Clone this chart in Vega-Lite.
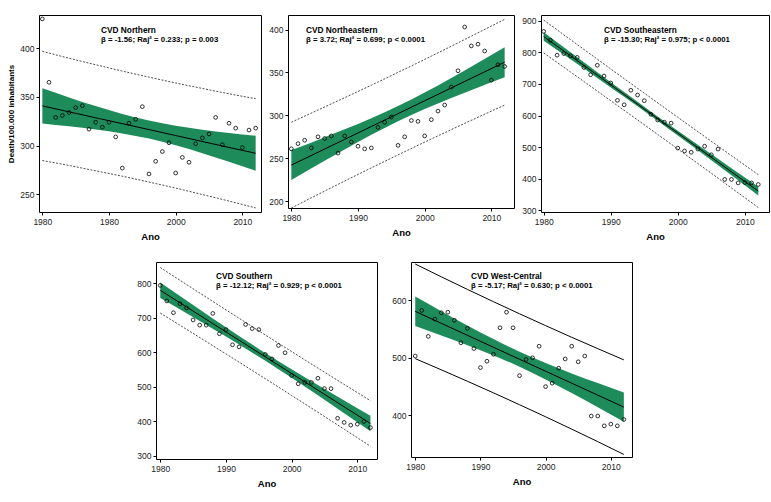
{
"$schema": "https://vega.github.io/schema/vega-lite/v6.json",
"background": "white",
"padding": {"left": 7, "top": 14, "right": 1, "bottom": 5},
"config": {
 "font": "Liberation Sans, Arial, sans-serif",
 "view": {"stroke": "black", "strokeWidth": 1},
 "axis": {"domain": false, "grid": false, "labelOverlap": false, "tickCount": 20, "tickColor": "black", "tickSize": 3, "tickWidth": 1, "labelFont": "Liberation Sans, Arial, sans-serif", "labelFontSize": 8.5, "labelColor": "#222", "labelPadding": 2, "titleFont": "Liberation Sans, Arial, sans-serif", "titleFontSize": 9.5, "titleFontWeight": "bold", "titleColor": "black"},
 "title": {"anchor": "start", "frame": "group", "font": "Liberation Sans, Arial, sans-serif", "fontSize": 8.3, "fontWeight": "bold", "color": "black", "subtitleFont": "Liberation Sans, Arial, sans-serif", "subtitleFontSize": 7.8, "subtitleFontWeight": "bold", "subtitleColor": "black", "subtitlePadding": 1.5}
},
"datasets": {
 "pts": [
  {"r":"N","year":1980,"v":430},{"r":"N","year":1981,"v":365},{"r":"N","year":1982,"v":329},{"r":"N","year":1983,"v":331},{"r":"N","year":1984,"v":334},{"r":"N","year":1985,"v":339},{"r":"N","year":1986,"v":341},{"r":"N","year":1987,"v":317},{"r":"N","year":1988,"v":324},{"r":"N","year":1989,"v":319},{"r":"N","year":1990,"v":324},{"r":"N","year":1991,"v":309},{"r":"N","year":1992,"v":277},{"r":"N","year":1993,"v":323},{"r":"N","year":1994,"v":327},{"r":"N","year":1995,"v":340},{"r":"N","year":1996,"v":271},{"r":"N","year":1997,"v":284},{"r":"N","year":1998,"v":294},{"r":"N","year":1999,"v":303},{"r":"N","year":2000,"v":272},{"r":"N","year":2001,"v":288},{"r":"N","year":2002,"v":283},{"r":"N","year":2003,"v":302},{"r":"N","year":2004,"v":308},{"r":"N","year":2005,"v":312},{"r":"N","year":2006,"v":329},{"r":"N","year":2007,"v":301},{"r":"N","year":2008,"v":323},{"r":"N","year":2009,"v":318},{"r":"N","year":2010,"v":298},{"r":"N","year":2011,"v":316},{"r":"N","year":2012,"v":318},
  {"r":"NE","year":1980,"v":261},{"r":"NE","year":1981,"v":267},{"r":"NE","year":1982,"v":271},{"r":"NE","year":1983,"v":262},{"r":"NE","year":1984,"v":275},{"r":"NE","year":1985,"v":273},{"r":"NE","year":1986,"v":276},{"r":"NE","year":1987,"v":256},{"r":"NE","year":1988,"v":276},{"r":"NE","year":1989,"v":269},{"r":"NE","year":1990,"v":264},{"r":"NE","year":1991,"v":261},{"r":"NE","year":1992,"v":262},{"r":"NE","year":1993,"v":286},{"r":"NE","year":1994,"v":292},{"r":"NE","year":1995,"v":298},{"r":"NE","year":1996,"v":265},{"r":"NE","year":1997,"v":275},{"r":"NE","year":1998,"v":294},{"r":"NE","year":1999,"v":293},{"r":"NE","year":2000,"v":276},{"r":"NE","year":2001,"v":295},{"r":"NE","year":2002,"v":305},{"r":"NE","year":2003,"v":312},{"r":"NE","year":2004,"v":333},{"r":"NE","year":2005,"v":352},{"r":"NE","year":2006,"v":403},{"r":"NE","year":2007,"v":381},{"r":"NE","year":2008,"v":383},{"r":"NE","year":2009,"v":375},{"r":"NE","year":2010,"v":341},{"r":"NE","year":2011,"v":359},{"r":"NE","year":2012,"v":357},
  {"r":"SE","year":1980,"v":866},{"r":"SE","year":1981,"v":838},{"r":"SE","year":1982,"v":791},{"r":"SE","year":1983,"v":796},{"r":"SE","year":1984,"v":789},{"r":"SE","year":1985,"v":784},{"r":"SE","year":1986,"v":752},{"r":"SE","year":1987,"v":729},{"r":"SE","year":1988,"v":759},{"r":"SE","year":1989,"v":725},{"r":"SE","year":1990,"v":703},{"r":"SE","year":1991,"v":648},{"r":"SE","year":1992,"v":634},{"r":"SE","year":1993,"v":680},{"r":"SE","year":1994,"v":665},{"r":"SE","year":1995,"v":647},{"r":"SE","year":1996,"v":604},{"r":"SE","year":1997,"v":586},{"r":"SE","year":1998,"v":579},{"r":"SE","year":1999,"v":576},{"r":"SE","year":2000,"v":497},{"r":"SE","year":2001,"v":488},{"r":"SE","year":2002,"v":484},{"r":"SE","year":2003,"v":494},{"r":"SE","year":2004,"v":503},{"r":"SE","year":2005,"v":476},{"r":"SE","year":2006,"v":494},{"r":"SE","year":2007,"v":398},{"r":"SE","year":2008,"v":398},{"r":"SE","year":2009,"v":387},{"r":"SE","year":2010,"v":388},{"r":"SE","year":2011,"v":387},{"r":"SE","year":2012,"v":382},
  {"r":"S","year":1980,"v":793},{"r":"S","year":1981,"v":748},{"r":"S","year":1982,"v":714},{"r":"S","year":1983,"v":740},{"r":"S","year":1984,"v":728},{"r":"S","year":1985,"v":693},{"r":"S","year":1986,"v":678},{"r":"S","year":1987,"v":678},{"r":"S","year":1988,"v":712},{"r":"S","year":1989,"v":653},{"r":"S","year":1990,"v":665},{"r":"S","year":1991,"v":621},{"r":"S","year":1992,"v":615},{"r":"S","year":1993,"v":680},{"r":"S","year":1994,"v":668},{"r":"S","year":1995,"v":665},{"r":"S","year":1996,"v":593},{"r":"S","year":1997,"v":580},{"r":"S","year":1998,"v":619},{"r":"S","year":1999,"v":598},{"r":"S","year":2000,"v":532},{"r":"S","year":2001,"v":508},{"r":"S","year":2002,"v":512},{"r":"S","year":2003,"v":512},{"r":"S","year":2004,"v":524},{"r":"S","year":2005,"v":494},{"r":"S","year":2006,"v":494},{"r":"S","year":2007,"v":408},{"r":"S","year":2008,"v":396},{"r":"S","year":2009,"v":388},{"r":"S","year":2010,"v":391},{"r":"S","year":2011,"v":399},{"r":"S","year":2012,"v":381},
  {"r":"WC","year":1980,"v":503},{"r":"WC","year":1981,"v":582},{"r":"WC","year":1982,"v":537},{"r":"WC","year":1983,"v":567},{"r":"WC","year":1984,"v":578},{"r":"WC","year":1985,"v":579},{"r":"WC","year":1986,"v":565},{"r":"WC","year":1987,"v":526},{"r":"WC","year":1988,"v":551},{"r":"WC","year":1989,"v":516},{"r":"WC","year":1990,"v":483},{"r":"WC","year":1991,"v":494},{"r":"WC","year":1992,"v":506},{"r":"WC","year":1993,"v":552},{"r":"WC","year":1994,"v":579},{"r":"WC","year":1995,"v":552},{"r":"WC","year":1996,"v":469},{"r":"WC","year":1997,"v":497},{"r":"WC","year":1998,"v":500},{"r":"WC","year":1999,"v":520},{"r":"WC","year":2000,"v":450},{"r":"WC","year":2001,"v":456},{"r":"WC","year":2002,"v":482},{"r":"WC","year":2003,"v":498},{"r":"WC","year":2004,"v":520},{"r":"WC","year":2005,"v":493},{"r":"WC","year":2006,"v":503},{"r":"WC","year":2007,"v":399},{"r":"WC","year":2008,"v":399},{"r":"WC","year":2009,"v":382},{"r":"WC","year":2010,"v":385},{"r":"WC","year":2011,"v":382},{"r":"WC","year":2012,"v":393}
 ],
 "fit": [
  {"r":"N","year":1980,"fit":340.8,"lo":322.8,"hi":358.8,"pl":284.8,"ph":396.8},
  {"r":"N","year":1984,"fit":334.7,"lo":319.9,"hi":349.5,"pl":279.7,"ph":389.7},
  {"r":"N","year":1988,"fit":328.6,"lo":316.6,"hi":340.6,"pl":274.2,"ph":383.0},
  {"r":"N","year":1992,"fit":322.6,"lo":312.6,"hi":332.6,"pl":268.7,"ph":376.5},
  {"r":"N","year":1996,"fit":316.5,"lo":307.3,"hi":325.7,"pl":262.7,"ph":370.3},
  {"r":"N","year":2000,"fit":310.4,"lo":300.4,"hi":320.4,"pl":256.5,"ph":364.3},
  {"r":"N","year":2004,"fit":304.3,"lo":292.3,"hi":316.3,"pl":249.9,"ph":358.7},
  {"r":"N","year":2008,"fit":298.2,"lo":283.4,"hi":313.0,"pl":243.2,"ph":353.2},
  {"r":"N","year":2012,"fit":292.2,"lo":274.2,"hi":310.2,"pl":236.2,"ph":348.2},
  {"r":"NE","year":1980,"fit":242.0,"lo":224.5,"hi":259.5,"pl":192.0,"ph":292.0},
  {"r":"NE","year":1984,"fit":257.0,"lo":242.6,"hi":271.4,"pl":207.8,"ph":306.2},
  {"r":"NE","year":1988,"fit":272.0,"lo":260.3,"hi":283.7,"pl":223.4,"ph":320.6},
  {"r":"NE","year":1992,"fit":287.0,"lo":277.3,"hi":296.7,"pl":238.8,"ph":335.2},
  {"r":"NE","year":1996,"fit":302.0,"lo":293.1,"hi":310.9,"pl":253.9,"ph":350.1},
  {"r":"NE","year":2000,"fit":317.0,"lo":307.3,"hi":326.7,"pl":268.8,"ph":365.2},
  {"r":"NE","year":2004,"fit":332.0,"lo":320.3,"hi":343.7,"pl":283.4,"ph":380.6},
  {"r":"NE","year":2008,"fit":347.0,"lo":332.6,"hi":361.4,"pl":297.8,"ph":396.2},
  {"r":"NE","year":2012,"fit":362.0,"lo":344.5,"hi":379.5,"pl":312.0,"ph":412.0},
  {"r":"SE","year":1980,"fit":850.0,"lo":836.5,"hi":863.5,"pl":798.0,"ph":902.0},
  {"r":"SE","year":1984,"fit":788.9,"lo":777.8,"hi":800.0,"pl":737.8,"ph":840.0},
  {"r":"SE","year":1988,"fit":727.8,"lo":718.8,"hi":736.8,"pl":677.3,"ph":778.3},
  {"r":"SE","year":1992,"fit":666.6,"lo":659.1,"hi":674.1,"pl":616.5,"ph":716.7},
  {"r":"SE","year":1996,"fit":605.5,"lo":598.6,"hi":612.4,"pl":555.5,"ph":655.5},
  {"r":"SE","year":2000,"fit":544.4,"lo":536.9,"hi":551.9,"pl":494.3,"ph":594.5},
  {"r":"SE","year":2004,"fit":483.3,"lo":474.3,"hi":492.3,"pl":432.8,"ph":533.8},
  {"r":"SE","year":2008,"fit":422.1,"lo":411.0,"hi":433.2,"pl":371.0,"ph":473.2},
  {"r":"SE","year":2012,"fit":361.0,"lo":347.5,"hi":374.5,"pl":309.0,"ph":413.0},
  {"r":"S","year":1980,"fit":779.0,"lo":756.5,"hi":801.5,"pl":713.0,"ph":845.0},
  {"r":"S","year":1984,"fit":730.8,"lo":712.3,"hi":749.3,"pl":665.9,"ph":795.7},
  {"r":"S","year":1988,"fit":682.5,"lo":667.5,"hi":697.5,"pl":618.4,"ph":746.6},
  {"r":"S","year":1992,"fit":634.3,"lo":621.8,"hi":646.8,"pl":570.7,"ph":697.9},
  {"r":"S","year":1996,"fit":586.0,"lo":574.5,"hi":597.5,"pl":522.6,"ph":649.4},
  {"r":"S","year":2000,"fit":537.8,"lo":525.3,"hi":550.3,"pl":474.2,"ph":601.4},
  {"r":"S","year":2004,"fit":489.5,"lo":474.5,"hi":504.5,"pl":425.4,"ph":553.6},
  {"r":"S","year":2008,"fit":441.3,"lo":422.8,"hi":459.8,"pl":376.4,"ph":506.2},
  {"r":"S","year":2012,"fit":393.0,"lo":370.5,"hi":415.5,"pl":327.0,"ph":459.0},
  {"r":"WC","year":1980,"fit":580.5,"lo":555.0,"hi":606.0,"pl":498.5,"ph":662.5},
  {"r":"WC","year":1984,"fit":559.7,"lo":538.7,"hi":580.7,"pl":479.1,"ph":640.3},
  {"r":"WC","year":1988,"fit":538.9,"lo":521.9,"hi":555.9,"pl":459.3,"ph":618.5},
  {"r":"WC","year":1992,"fit":518.2,"lo":504.0,"hi":532.4,"pl":439.2,"ph":597.2},
  {"r":"WC","year":1996,"fit":497.4,"lo":484.4,"hi":510.4,"pl":418.6,"ph":576.2},
  {"r":"WC","year":2000,"fit":476.7,"lo":462.5,"hi":490.9,"pl":397.7,"ph":555.7},
  {"r":"WC","year":2004,"fit":455.9,"lo":438.9,"hi":472.9,"pl":376.3,"ph":535.5},
  {"r":"WC","year":2008,"fit":435.2,"lo":414.2,"hi":456.2,"pl":354.6,"ph":515.8},
  {"r":"WC","year":2012,"fit":414.4,"lo":388.9,"hi":439.9,"pl":332.4,"ph":496.4}
 ]
},
"spacing": 19,
"vconcat": [
 {"hconcat": [
  {"width": 222, "height": 197,
   "title": {"text": "CVD Northern", "subtitle": "β = -1.56; Raj² = 0.233; p = 0.003", "dx": 62, "offset": -29},
   "data": {"name": "fit"}, "transform": [{"filter": "datum.r === 'N'"}],
   "encoding": {"x": {"field": "year", "type": "quantitative", "scale": {"domain": [1979.5, 2012.8], "nice": false, "zero": false}, "axis": {"values": [1980, 1990, 2000, 2010], "format": "d", "labelExpr": "datum.value == 1990 ? '1980' : datum.label", "title": "Ano", "titlePadding": 6}}},
   "layer": [
    {"mark": {"type": "area", "color": "#1e8c5a", "opacity": 1, "interpolate": "monotone"}, "encoding": {"y": {"field": "lo", "type": "quantitative", "scale": {"domain": [232, 434], "nice": false, "zero": false}, "axis": {"values": [250, 300, 350, 400], "title": "Death/100.000 inhabitants", "titleFontSize": 8, "titlePadding": 4}}, "y2": {"field": "hi"}}},
    {"mark": {"type": "line", "color": "black", "strokeWidth": 1}, "encoding": {"y": {"field": "fit", "type": "quantitative"}}},
    {"mark": {"type": "line", "color": "#222", "strokeWidth": 0.8, "strokeDash": [2, 1.5], "interpolate": "monotone"}, "encoding": {"y": {"field": "pl", "type": "quantitative"}}},
    {"mark": {"type": "line", "color": "#222", "strokeWidth": 0.8, "strokeDash": [2, 1.5], "interpolate": "monotone"}, "encoding": {"y": {"field": "ph", "type": "quantitative"}}},
    {"data": {"name": "pts"}, "transform": [{"filter": "datum.r === 'N'"}], "mark": {"type": "point", "shape": "circle", "filled": false, "stroke": "black", "strokeWidth": 0.8, "size": 14, "opacity": 1}, "encoding": {"y": {"field": "v", "type": "quantitative"}}}
   ]},
  {"width": 226, "height": 193,
   "title": {"text": "CVD Northeastern", "subtitle": "β = 3.72; Raj² = 0.699; p < 0.0001", "dx": 18, "offset": -29},
   "data": {"name": "fit"}, "transform": [{"filter": "datum.r === 'NE'"}],
   "encoding": {"x": {"field": "year", "type": "quantitative", "scale": {"domain": [1979.5, 2013.4], "nice": false, "zero": false}, "axis": {"values": [1980, 1990, 2000, 2010], "format": "d", "title": "Ano", "titlePadding": 6}}},
   "layer": [
    {"mark": {"type": "area", "color": "#1e8c5a", "opacity": 1, "interpolate": "monotone"}, "encoding": {"y": {"field": "lo", "type": "quantitative", "scale": {"domain": [192, 417], "nice": false, "zero": false}, "axis": {"values": [200, 250, 300, 350, 400], "title": null}}, "y2": {"field": "hi"}}},
    {"mark": {"type": "line", "color": "black", "strokeWidth": 1}, "encoding": {"y": {"field": "fit", "type": "quantitative"}}},
    {"mark": {"type": "line", "color": "#222", "strokeWidth": 0.8, "strokeDash": [2, 1.5], "interpolate": "monotone"}, "encoding": {"y": {"field": "pl", "type": "quantitative"}}},
    {"mark": {"type": "line", "color": "#222", "strokeWidth": 0.8, "strokeDash": [2, 1.5], "interpolate": "monotone"}, "encoding": {"y": {"field": "ph", "type": "quantitative"}}},
    {"data": {"name": "pts"}, "transform": [{"filter": "datum.r === 'NE'"}], "mark": {"type": "point", "shape": "circle", "filled": false, "stroke": "black", "strokeWidth": 0.8, "size": 14, "opacity": 1}, "encoding": {"y": {"field": "v", "type": "quantitative"}}}
   ]},
  {"width": 228, "height": 197,
   "title": {"text": "CVD Southeastern", "subtitle": "β = -15.30; Raj² = 0.975; p < 0.0001", "dx": 63, "offset": -29},
   "data": {"name": "fit"}, "transform": [{"filter": "datum.r === 'SE'"}],
   "encoding": {"x": {"field": "year", "type": "quantitative", "scale": {"domain": [1979.6, 2013.6], "nice": false, "zero": false}, "axis": {"values": [1980, 1990, 2000, 2010], "format": "d", "title": "Ano", "titlePadding": 6}}},
   "layer": [
    {"mark": {"type": "area", "color": "#1e8c5a", "opacity": 1, "interpolate": "monotone"}, "encoding": {"y": {"field": "lo", "type": "quantitative", "scale": {"domain": [295, 918], "nice": false, "zero": false}, "axis": {"values": [300, 400, 500, 600, 700, 800, 900], "tickCount": 20, "title": null}}, "y2": {"field": "hi"}}},
    {"mark": {"type": "line", "color": "black", "strokeWidth": 1}, "encoding": {"y": {"field": "fit", "type": "quantitative"}}},
    {"mark": {"type": "line", "color": "#222", "strokeWidth": 0.8, "strokeDash": [2, 1.5], "interpolate": "monotone"}, "encoding": {"y": {"field": "pl", "type": "quantitative"}}},
    {"mark": {"type": "line", "color": "#222", "strokeWidth": 0.8, "strokeDash": [2, 1.5], "interpolate": "monotone"}, "encoding": {"y": {"field": "ph", "type": "quantitative"}}},
    {"data": {"name": "pts"}, "transform": [{"filter": "datum.r === 'SE'"}], "mark": {"type": "point", "shape": "circle", "filled": false, "stroke": "black", "strokeWidth": 0.8, "size": 14, "opacity": 1}, "encoding": {"y": {"field": "v", "type": "quantitative"}}}
   ]}
 ], "spacing": 27, "bounds": "flush"},
 {"hconcat": [
  {"width": 83, "height": 197, "data": {"values": []}, "mark": {"type": "rule"}, "encoding": {}, "view": {"stroke": null}},
  {"width": 221, "height": 197,
   "title": {"text": "CVD Southern", "subtitle": "β = -12.12; Raj² = 0.929; p < 0.0001", "dx": 60, "offset": -28},
   "data": {"name": "fit"}, "transform": [{"filter": "datum.r === 'S'"}],
   "encoding": {"x": {"field": "year", "type": "quantitative", "scale": {"domain": [1979.35, 2013.0], "nice": false, "zero": false}, "axis": {"values": [1980, 1990, 2000, 2010], "format": "d", "title": "Ano", "titlePadding": 6}}},
   "layer": [
    {"mark": {"type": "area", "color": "#1e8c5a", "opacity": 1, "interpolate": "monotone"}, "encoding": {"y": {"field": "lo", "type": "quantitative", "scale": {"domain": [290, 861], "nice": false, "zero": false}, "axis": {"values": [300, 400, 500, 600, 700, 800], "tickCount": 20, "title": null}}, "y2": {"field": "hi"}}},
    {"mark": {"type": "line", "color": "black", "strokeWidth": 1}, "encoding": {"y": {"field": "fit", "type": "quantitative"}}},
    {"mark": {"type": "line", "color": "#222", "strokeWidth": 0.8, "strokeDash": [2, 1.5], "interpolate": "monotone"}, "encoding": {"y": {"field": "pl", "type": "quantitative"}}},
    {"mark": {"type": "line", "color": "#222", "strokeWidth": 0.8, "strokeDash": [2, 1.5], "interpolate": "monotone"}, "encoding": {"y": {"field": "ph", "type": "quantitative"}}},
    {"data": {"name": "pts"}, "transform": [{"filter": "datum.r === 'S'"}], "mark": {"type": "point", "shape": "circle", "filled": false, "stroke": "black", "strokeWidth": 0.8, "size": 14, "opacity": 1}, "encoding": {"y": {"field": "v", "type": "quantitative"}}}
   ]},
  {"width": 221, "height": 195,
   "title": {"text": "CVD West-Central", "subtitle": "β = -5.17; Raj² = 0.630; p < 0.0001", "dx": 60, "offset": -28},
   "data": {"name": "fit"}, "transform": [{"filter": "datum.r === 'WC'"}],
   "encoding": {"x": {"field": "year", "type": "quantitative", "scale": {"domain": [1979.35, 2013.25], "nice": false, "zero": false}, "axis": {"values": [1980, 1990, 2000, 2010], "format": "d", "title": "Ano", "titlePadding": 6}}},
   "layer": [
    {"mark": {"type": "area", "color": "#1e8c5a", "opacity": 1, "interpolate": "monotone"}, "encoding": {"y": {"field": "lo", "type": "quantitative", "scale": {"domain": [328, 666], "nice": false, "zero": false}, "axis": {"values": [400, 500, 600], "title": null}}, "y2": {"field": "hi"}}},
    {"mark": {"type": "line", "color": "black", "strokeWidth": 1}, "encoding": {"y": {"field": "fit", "type": "quantitative"}}},
    {"mark": {"type": "line", "color": "black", "strokeWidth": 1, "interpolate": "monotone"}, "encoding": {"y": {"field": "pl", "type": "quantitative"}}},
    {"mark": {"type": "line", "color": "black", "strokeWidth": 1, "interpolate": "monotone"}, "encoding": {"y": {"field": "ph", "type": "quantitative"}}},
    {"data": {"name": "pts"}, "transform": [{"filter": "datum.r === 'WC'"}], "mark": {"type": "point", "shape": "circle", "filled": false, "stroke": "black", "strokeWidth": 0.8, "size": 14, "opacity": 1}, "encoding": {"y": {"field": "v", "type": "quantitative"}}}
   ]}
 ], "spacing": 34, "bounds": "flush"}
]
}
